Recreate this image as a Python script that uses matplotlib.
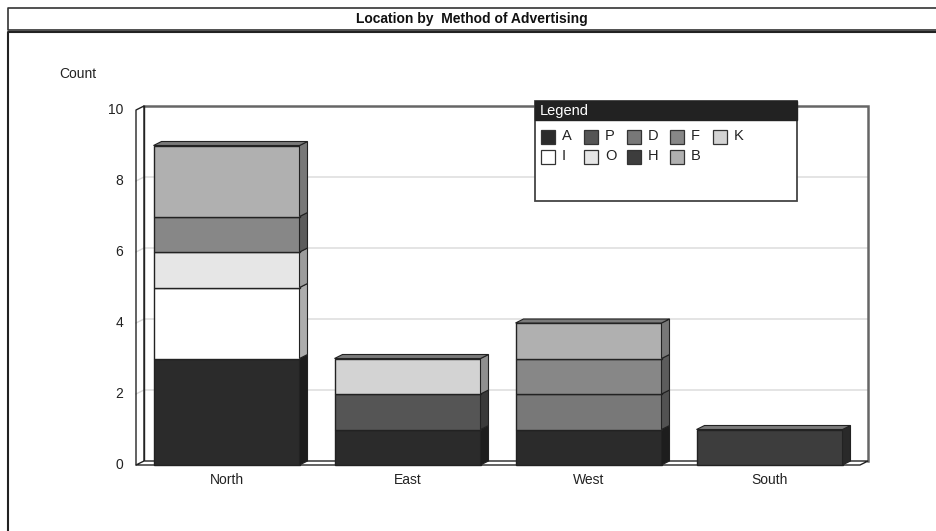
import matplotlib
matplotlib.use("Agg")
import matplotlib.pyplot as plt
from matplotlib.patches import Rectangle, Polygon
from matplotlib.lines import Line2D
import numpy as np

# ---------------- data ----------------
categories = ['North', 'East', 'West', 'South']
series_names = ['A', 'P', 'D', 'F', 'K', 'I', 'O', 'H', 'B']
A = [3, 1, 1, 0]
P = [0, 1, 0, 0]
D = [0, 0, 1, 0]
F = [1, 0, 1, 0]
K = [0, 1, 0, 0]
I = [2, 0, 0, 0]
O = [1, 0, 0, 0]
H = [0, 0, 0, 1]
B = [2, 0, 1, 0]
series_values = {'A': A, 'P': P, 'D': D, 'F': F, 'K': K, 'I': I, 'O': O, 'H': H, 'B': B}
stack_order = ['A', 'P', 'D', 'I', 'O', 'F', 'K', 'H', 'B']
y_ticks = [0, 2, 4, 6, 8, 10]
title = 'Location by  Method of Advertising'
y_label = 'Count'

colors = {'A': '#2b2b2b', 'P': '#555555', 'D': '#787878', 'F': '#878787',
          'K': '#d3d3d3', 'I': '#ffffff', 'O': '#e6e6e6', 'H': '#3d3d3d',
          'B': '#b0b0b0'}
top_color = '#7a7a7a'

FONT = ['Liberation Sans', 'DejaVu Sans']
NARROW = ['Liberation Sans Narrow', 'Liberation Sans', 'DejaVu Sans']

W, Hpx = 936, 531
fig = plt.figure(figsize=(W / 100, Hpx / 100), dpi=100)
fig.patch.set_facecolor('white')

# axes geometry (pixels)
ax_l, ax_r, ax_b, ax_t = 136, 860, 465, 110
ax = fig.add_axes([ax_l / W, (Hpx - ax_b) / Hpx, (ax_r - ax_l) / W, (ax_b - ax_t) / Hpx])
ax.set_xlim(-0.5, 3.5)
ax.set_ylim(0, 10)
ax.axis('off')

px_x = 4.0 / (ax_r - ax_l)      # data units per pixel (x)
px_y = 10.0 / (ax_b - ax_t)     # data units per pixel (y)
dx = 8 * px_x
dy = 4 * px_y
x0, x1 = -0.5, 3.5


def shade(c, f):
    r, g, b = matplotlib.colors.to_rgb(c)
    return (r * f, g * f, b * f)


# back wall, left wall, floor
ax.add_patch(Polygon([(x0 + dx, dy), (x1 + dx, dy), (x1 + dx, 10 + dy), (x0 + dx, 10 + dy)],
                     closed=True, facecolor='white', edgecolor='none', zorder=0, clip_on=False))
for v in y_ticks[1:-1]:
    ax.plot([x0, x0 + dx, x1 + dx], [v, v + dy, v + dy], color='#d9d9d9', lw=1.0,
            zorder=0.5, clip_on=False)
# back wall top/right edges (gray)
ax.plot([x0 + dx, x1 + dx, x1 + dx], [10 + dy, 10 + dy, dy], color='#666666', lw=1.8,
        zorder=0.6, clip_on=False, solid_joinstyle='miter')
# left wall
ax.plot([x0, x0, x0 + dx, x0 + dx, x0 + dx], [0, 10, 10 + dy, 10 + dy, dy], color='#222222',
        lw=1.0, zorder=0.7, clip_on=False)
ax.plot([x0 + dx, x0 + dx], [dy, 10 + dy], color='#222222', lw=1.0, zorder=0.7, clip_on=False)
# floor
ax.add_patch(Polygon([(x0, 0), (x1, 0), (x1 + dx, dy), (x0 + dx, dy)], closed=True,
                     facecolor='white', edgecolor='#222222', lw=1.0, zorder=0.8, clip_on=False))

# bars
bw = 146.0 / 181.0
for ci, cat in enumerate(categories):
    bottom = 0
    segs = [(s, series_values[s][ci]) for s in stack_order if series_values[s][ci] > 0]
    for si, (s, v) in enumerate(segs):
        c = colors[s]
        top = bottom + v
        xl, xr = ci - bw / 2, ci + bw / 2
        ax.add_patch(Rectangle((xl, bottom), bw, v, facecolor=c, edgecolor='#222222',
                               lw=1.0, zorder=2, clip_on=False))
        ax.add_patch(Polygon([(xr, bottom), (xr + dx, bottom + dy), (xr + dx, top + dy), (xr, top)],
                             closed=True, facecolor=shade(c, 0.68), edgecolor='#222222',
                             lw=0.8, zorder=2, clip_on=False))
        if si == len(segs) - 1:
            ax.add_patch(Polygon([(xl, top), (xr, top), (xr + dx, top + dy), (xl + dx, top + dy)],
                                 closed=True, facecolor=top_color, edgecolor='#222222',
                                 lw=0.8, zorder=2, clip_on=False))
        bottom = top
    ax.text(ci, -0.42, cat, ha='center', va='center', fontsize=10, family=FONT,
            color='#222222', clip_on=False)

for v in y_ticks:
    ax.text(x0 - 13 * px_x, v, str(v), ha='right', va='center', fontsize=10, family=FONT,
            color='#222222', clip_on=False)

# y label
fig.text(59 / W, 1 - 74 / Hpx, y_label, ha='left', va='center', fontsize=10, family=FONT,
         color='#222222')


# frames (figure pixel helpers)
def fx(x):
    return x / W


def fy(y):
    return 1 - y / Hpx


def fline(xs, ys, **kw):
    fig.add_artist(Line2D([fx(x) for x in xs], [fy(y) for y in ys], transform=fig.transFigure, **kw))


fline([936, 8, 8, 936], [8, 8, 30, 30], color='#333333', lw=1.2)
fline([936, 8, 8], [32, 32, 531], color='#222222', lw=1.5)
fig.text(fx(472), fy(19), title, ha='center', va='center', fontsize=10, fontweight='bold',
         family=NARROW, color='#111111')

# legend
lg_l, lg_r, lg_t, lg_b = 535, 797, 101, 201
fig.add_artist(Rectangle((fx(lg_l), fy(lg_b)), fx(lg_r - lg_l), fy(lg_t) - fy(lg_b),
                         transform=fig.transFigure, facecolor='white', edgecolor='#444444',
                         lw=1.3, zorder=5))
fig.add_artist(Rectangle((fx(lg_l), fy(120)), fx(lg_r - lg_l), fy(lg_t) - fy(120),
                         transform=fig.transFigure, facecolor='#222222', edgecolor='#222222',
                         lw=1.0, zorder=6))
fig.text(fx(540), fy(111), 'Legend', ha='left', va='center', fontsize=10.5, family=FONT,
         color='white', zorder=7)
col_x = [541, 584, 627, 670, 713]
row_y = [137, 157]
for i, s in enumerate(series_names):
    r, c = divmod(i, 5)
    sx, sy = col_x[c], row_y[r]
    fig.add_artist(Rectangle((fx(sx), fy(sy + 7)), fx(14), fy(sy - 7) - fy(sy + 7),
                             transform=fig.transFigure, facecolor=colors[s],
                             edgecolor='#333333', lw=0.9, zorder=7))
    fig.text(fx(sx + 21), fy(sy - 1), s, ha='left', va='center', fontsize=10.5, family=FONT,
             color='#222222', zorder=7)

fig.savefig('out.png', dpi=100, facecolor='white')
